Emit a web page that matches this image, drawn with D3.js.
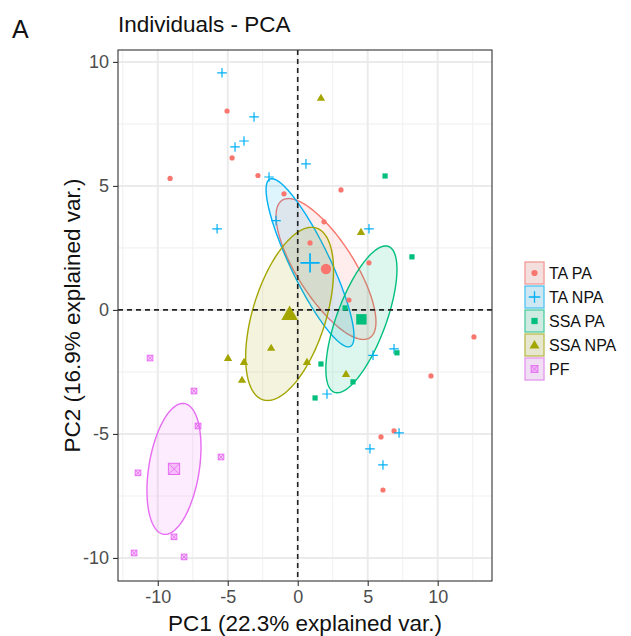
<!DOCTYPE html>
<html>
<head>
<meta charset="utf-8">
<script src="https://cdn.jsdelivr.net/npm/d3@7"></script>
<style>
  html, body { margin: 0; padding: 0; background: #fff; }
  svg { display: block; font-family: "Liberation Sans", Arial, Helvetica, sans-serif; }
</style>
</head>
<body>
<svg id="chart" width="631" height="636"></svg>
<script>
// ---------------- data ----------------
const groups = ["TA PA", "TA NPA", "SSA PA", "SSA NPA", "PF"];
const groupColors = ["#F8766D", "#00B0F6", "#00BF7D", "#A3A500", "#E76BF3"];
const groupShapes = ["circle", "plus", "square", "triangle", "squarecross"];

const taPA = [[-5.05, 8.02], [-9.12, 5.3], [-4.69, 6.13], [-2.84, 5.42], [-0.98, 4.68], [3.09, 4.84],
  [1.88, 3.55], [0.88, 2.7], [5.09, 1.9], [3.66, 0.4], [12.59, -1.09], [9.52, -2.66],
  [6.88, -4.88], [5.95, -5.12], [6.09, -7.26]];
const taNPA = [[-5.41, 9.56], [-3.12, 7.78], [-3.84, 6.81], [-4.48, 6.57], [-2.05, 5.36], [0.59, 5.89],
  [-5.76, 3.27], [-1.55, 3.6], [5.09, 3.27], [6.88, -1.57], [5.38, -1.83], [2.09, -3.39],
  [7.24, -4.96], [5.16, -5.6], [6.09, -6.25]];
const ssaPA = [[6.24, 5.4], [8.16, 2.14], [3.38, 0.08], [7.09, -1.73], [1.66, -2.18], [3.95, -2.9], [1.24, -3.55]];
const ssaNPA = [[1.66, 8.55], [4.52, 3.14], [-1.9, -1.53], [-4.98, -1.94], [-3.84, -2.1], [-3.98, -2.82],
  [0.66, -2.1], [3.45, -2.58]];
const pf = [[-10.55, -1.94], [-7.41, -3.27], [-7.12, -4.68], [-5.48, -5.93], [-11.41, -6.57],
  [-8.84, -9.15], [-11.69, -9.8], [-8.12, -9.96]];
const groupPoints = [taPA, taNPA, ssaPA, ssaNPA, pf];

// group means (ellipse centres)
const meanX = [2.02, 0.88, 4.55, -0.58, -8.84];
const meanY = [1.65, 1.9, -0.38, -0.16, -6.41];
// ellipse half-extents (data units) and correlation
const ellW = [3.57, 3.14, 2.54, 3.14, 1.93];
const ellH = [2.84, 3.39, 2.96, 3.49, 2.64];
const ellR = [-0.75, -0.87, 0.68, 0.50, 0.33];

const xTicks = [-10, -5, 0, 5, 10];
const yTicks = [-10, -5, 0, 5, 10];
const xMinor = [-12.5, -7.5, -2.5, 2.5, 7.5, 12.5];
const yMinor = [-7.5, -2.5, 2.5, 7.5];
const xDomain = [-12.84, 13.88];
const yDomain = [-10.93, 10.48];

const titleText = "Individuals - PCA";
const panelTag = "A";
const xTitle = "PC1 (22.3% explained var.)";
const yTitle = "PC2 (16.9% explained var.)";

// ---------------- layout ----------------
const panel = { left: 118, right: 492, top: 50, bottom: 581 };
const svg = d3.select("#chart");
const x = d3.scaleLinear().domain(xDomain).range([panel.left, panel.right]);
const y = d3.scaleLinear().domain(yDomain).range([panel.bottom, panel.top]);

// panel background
svg.append("rect").attr("x", panel.left).attr("y", panel.top)
  .attr("width", panel.right - panel.left).attr("height", panel.bottom - panel.top)
  .attr("fill", "#fff");

const grid = svg.append("g");
grid.selectAll(".vminor").data(xMinor).join("line")
  .attr("x1", d => x(d)).attr("x2", d => x(d)).attr("y1", panel.top).attr("y2", panel.bottom)
  .attr("stroke", "#F2F2F2").attr("stroke-width", 1.1);
grid.selectAll(".hminor").data(yMinor).join("line")
  .attr("y1", d => y(d)).attr("y2", d => y(d)).attr("x1", panel.left).attr("x2", panel.right)
  .attr("stroke", "#F2F2F2").attr("stroke-width", 1.1);
grid.selectAll(".vmajor").data(xTicks).join("line")
  .attr("x1", d => x(d)).attr("x2", d => x(d)).attr("y1", panel.top).attr("y2", panel.bottom)
  .attr("stroke", "#EBEBEB").attr("stroke-width", 2);
grid.selectAll(".hmajor").data(yTicks).join("line")
  .attr("y1", d => y(d)).attr("y2", d => y(d)).attr("x1", panel.left).attr("x2", panel.right)
  .attr("stroke", "#EBEBEB").attr("stroke-width", 2);

// ellipses
const thetas = d3.range(0, 360, 2).map(d => d * Math.PI / 180);
const ellLine = d3.line().x(p => x(p[0])).y(p => y(p[1])).curve(d3.curveLinearClosed);
const ellG = svg.append("g");
groups.forEach((g, i) => {
  const s = Math.sqrt(1 - ellR[i] * ellR[i]);
  const pts = thetas.map(t => [meanX[i] + ellW[i] * Math.cos(t),
                               meanY[i] + ellH[i] * (ellR[i] * Math.cos(t) + s * Math.sin(t))]);
  ellG.append("path").attr("d", ellLine(pts))
    .attr("fill", groupColors[i]).attr("fill-opacity", 0.13)
    .attr("stroke", groupColors[i]).attr("stroke-width", 1.4);
});

// dashed zero lines
svg.append("line").attr("x1", x(0)).attr("x2", x(0)).attr("y1", panel.top).attr("y2", panel.bottom)
  .attr("stroke", "#222").attr("stroke-width", 1.6).attr("stroke-dasharray", "5,4");
svg.append("line").attr("y1", y(0)).attr("y2", y(0)).attr("x1", panel.left).attr("x2", panel.right)
  .attr("stroke", "#222").attr("stroke-width", 1.6).attr("stroke-dasharray", "5,4");

// symbol drawer
function drawSymbol(sel, shape, color, cx, cy, k) {
  if (shape === "circle") {
    sel.append("circle").attr("cx", cx).attr("cy", cy).attr("r", 2.6 * k).attr("fill", color);
  } else if (shape === "plus") {
    const h = 4.8 * k;
    sel.append("path").attr("d", `M${cx - h},${cy}H${cx + h}M${cx},${cy - h}V${cy + h}`)
      .attr("stroke", color).attr("stroke-width", 1.2 * Math.sqrt(k)).attr("fill", "none");
  } else if (shape === "square") {
    const h = 2.6 * k;
    sel.append("rect").attr("x", cx - h).attr("y", cy - h).attr("width", 2 * h).attr("height", 2 * h).attr("fill", color);
  } else if (shape === "triangle") {
    sel.append("path").attr("d", d3.symbol(d3.symbolTriangle, 30 * k * k)())
      .attr("transform", `translate(${cx},${cy + 0.6 * k})`).attr("fill", color);
  } else if (shape === "squarecross") {
    const h = 2.8 * k;
    sel.append("rect").attr("x", cx - h).attr("y", cy - h).attr("width", 2 * h).attr("height", 2 * h)
      .attr("fill", color).attr("fill-opacity", 0.35).attr("stroke", color).attr("stroke-width", 1);
    sel.append("path").attr("d", `M${cx - h},${cy - h}L${cx + h},${cy + h}M${cx - h},${cy + h}L${cx + h},${cy - h}`)
      .attr("stroke", color).attr("stroke-width", 0.8);
  }
}

// points
const ptG = svg.append("g");
groups.forEach((g, i) => {
  groupPoints[i].forEach(p => drawSymbol(ptG, groupShapes[i], groupColors[i], x(p[0]), y(p[1]), 1));
});
// mean points
groups.forEach((g, i) => {
  drawSymbol(ptG, groupShapes[i], groupColors[i], x(meanX[i]), y(meanY[i]), 2);
});

// panel border
svg.append("rect").attr("x", panel.left).attr("y", panel.top)
  .attr("width", panel.right - panel.left).attr("height", panel.bottom - panel.top)
  .attr("fill", "none").attr("stroke", "#333").attr("stroke-width", 1.1);

// axes
const xAxis = svg.append("g").attr("transform", `translate(0,${panel.bottom})`)
  .call(d3.axisBottom(x).tickValues(xTicks).tickSize(5).tickPadding(4).tickFormat(d3.format("d")));
const yAxis = svg.append("g").attr("transform", `translate(${panel.left},0)`)
  .call(d3.axisLeft(y).tickValues(yTicks).tickSize(5).tickPadding(4).tickFormat(d3.format("d")));
[xAxis, yAxis].forEach(a => {
  a.select(".domain").remove();
  a.selectAll(".tick line").attr("stroke", "#333").attr("stroke-width", 1.1);
  a.selectAll(".tick text").attr("fill", "#4D4D4D").attr("font-size", 18)
    .attr("font-family", "Liberation Sans, Arial, sans-serif");
});
xAxis.selectAll(".tick text").text(d => d < 0 ? "-" + Math.abs(d) : d);
yAxis.selectAll(".tick text").text(d => d < 0 ? "-" + Math.abs(d) : d);

// titles
svg.append("text").attr("x", 12).attr("y", 38).attr("font-size", 25).attr("fill", "#111").text(panelTag);
svg.append("text").attr("x", panel.left).attr("y", 32).attr("font-size", 22.5).attr("fill", "#111").text(titleText);
svg.append("text").attr("x", (panel.left + panel.right) / 2).attr("y", 631).attr("text-anchor", "middle")
  .attr("font-size", 22.5).attr("fill", "#111").text(xTitle);
svg.append("text").attr("transform", `translate(80,${(panel.top + panel.bottom) / 2}) rotate(-90)`)
  .attr("text-anchor", "middle").attr("font-size", 22.5).attr("fill", "#111").text(yTitle);

// legend
const leg = svg.append("g");
const keyW = 21, keyH = 24, legX = 524, legY0 = 261;
groups.forEach((g, i) => {
  const ky = legY0 + i * keyH;
  leg.append("rect").attr("x", legX).attr("y", ky).attr("width", keyW).attr("height", keyH)
    .attr("fill", "#F2F2F2");
  leg.append("rect").attr("x", legX + 1).attr("y", ky + 1).attr("width", keyW - 2).attr("height", keyH - 2)
    .attr("fill", groupColors[i]).attr("fill-opacity", 0.15)
    .attr("stroke", groupColors[i]).attr("stroke-opacity", 0.7).attr("stroke-width", 1.2);
  drawSymbol(leg, groupShapes[i], groupColors[i], legX + keyW / 2, ky + keyH / 2, 1.2);
  leg.append("text").attr("x", legX + keyW + 4).attr("y", ky + keyH / 2).attr("dy", "0.35em")
    .attr("font-size", 16).attr("fill", "#111").text(g);
});
</script>
</body>
</html>
